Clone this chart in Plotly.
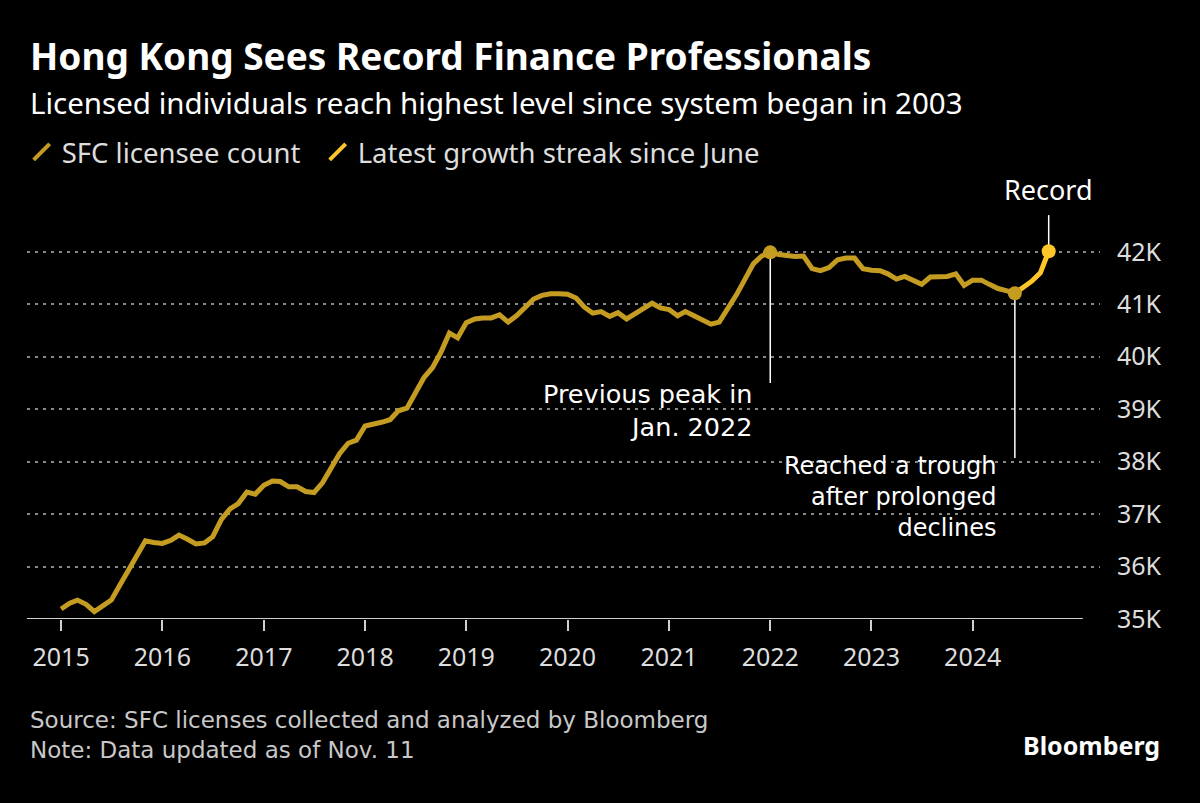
import pandas as pd
import plotly.graph_objects as go

# ---------------- data ----------------
start_month = "2015-01-01"
licensee_count = [
    # 2015
    35190, 35300, 35360, 35280, 35140, 35250, 35360, 35650, 35930, 36200, 36490, 36460,
    # 2016
    36440, 36500, 36600, 36520, 36430, 36450, 36570, 36900, 37100, 37200, 37420, 37380,
    # 2017
    37550, 37630, 37620, 37520, 37520, 37430, 37410, 37600, 37880, 38150, 38350, 38410,
    # 2018
    38680, 38710, 38750, 38800, 38970, 39020, 39300, 39600, 39790, 40080, 40450, 40360,
    # 2019
    40650, 40720, 40740, 40740, 40800, 40660, 40780, 40950, 41100, 41170, 41200, 41200,
    # 2020
    41190, 41120, 40950, 40830, 40860, 40770, 40840, 40720, 40820, 40930, 41020, 40930,
    # 2021
    40900, 40780, 40860, 40780, 40700, 40620, 40660, 40900, 41180, 41470, 41770, 41920,
    # 2022
    41990, 41950, 41930, 41910, 41920, 41680, 41640, 41700, 41850, 41880, 41880, 41680,
    # 2023
    41650, 41640, 41580, 41480, 41530, 41450, 41380, 41520, 41530, 41530, 41580, 41360,
    # 2024 (Jan - Jun)
    41460, 41460, 41380, 41300, 41260, 41210,
]
streak_start = "2024-06-01"
streak_count = [41210, 41330, 41440, 41600, 42010]  # Jun - Oct 2024

year_ticks = [f"{y}-01-01" for y in range(2015, 2025)]
year_labels = [str(y) for y in range(2015, 2025)]
y_ticks = [35000, 36000, 37000, 38000, 39000, 40000, 41000, 42000]
y_labels = ["35K", "36K", "37K", "38K", "39K", "40K", "41K", "42K"]

series_names = ["SFC licensee count", "Latest growth streak since June"]
peak_note = ["Previous peak in", "Jan. 2022"]
trough_note = ["Reached a trough", "after prolonged", "declines"]
footer_lines = ["Source: SFC licenses collected and analyzed by Bloomberg",
                "Note: Data updated as of Nov. 11"]

# ---------------- styling ----------------
FONT = "Noto Sans"
FONT_WIDE = "DejaVu Sans"
C_MAIN = "#C49C22"
C_STREAK = "#FFC629"
BG = "#000000"

dates = pd.date_range(start_month, periods=len(licensee_count), freq="MS")
streak_dates = pd.date_range(streak_start, periods=len(streak_count), freq="MS")

peak_i = max(range(len(licensee_count)), key=lambda i: licensee_count[i])
peak_x, peak_y = dates[peak_i], licensee_count[peak_i]
trough_x, trough_y = dates[-1], licensee_count[-1]
rec_x, rec_y = streak_dates[-1], streak_count[-1]

fig = go.Figure()

fig.add_trace(go.Scatter(x=dates, y=licensee_count, mode="lines",
                         line=dict(color=C_MAIN, width=5), showlegend=False,
                         name=series_names[0]))
fig.add_trace(go.Scatter(x=streak_dates, y=streak_count, mode="lines",
                         line=dict(color=C_STREAK, width=5), showlegend=False,
                         name=series_names[1]))
# dots
fig.add_trace(go.Scatter(x=[peak_x, trough_x], y=[peak_y, trough_y], mode="markers",
                         marker=dict(color=C_MAIN, size=14), showlegend=False))
fig.add_trace(go.Scatter(x=[rec_x], y=[rec_y], mode="markers",
                         marker=dict(color=C_STREAK, size=14), showlegend=False))

# legend entries with slanted icons
for k, (name, col) in enumerate(zip(series_names, [C_MAIN, C_STREAK])):
    fig.add_trace(go.Scatter(x=[None], y=[None], mode="markers", name=name,
                             legendwidth=251 if k == 0 else None,
                             marker=dict(symbol="line-ne", size=16,
                                         line=dict(color=col, width=4))))

# leader lines
line_style = dict(color="#ffffff", width=1.5)
fig.add_shape(type="line", xref="x", yref="y", x0=peak_x, x1=peak_x,
              y0=peak_y, y1=39500, line=line_style, layer="below")
fig.add_shape(type="line", xref="x", yref="y", x0=trough_x, x1=trough_x,
              y0=trough_y, y1=38070, line=line_style, layer="below")
fig.add_shape(type="line", xref="x", yref="y", x0=rec_x, x1=rec_x,
              y0=42130, y1=42700, line=line_style, layer="below")
# bottom axis line
fig.add_shape(type="line", xref="paper", yref="y", x0=0, x1=0.984,
              y0=35000, y1=35000, line=dict(color="#d0d0d0", width=2))

fig.add_annotation(x=rec_x, y=43180, xref="x", yref="y", text="Record",
                   showarrow=False, xanchor="center", yanchor="middle",
                   font=dict(family=FONT, size=27, color="#ffffff"))
fig.add_annotation(x=peak_x, y=38967, xref="x", yref="y", xshift=-15,
                   text="<br>".join(peak_note), align="right",
                   showarrow=False, xanchor="right", yanchor="middle",
                   font=dict(family=FONT_WIDE, size=25.5, color="#ffffff"))
fig.add_annotation(x=trough_x, y=37327, xref="x", yref="y", xshift=-16,
                   text="<br>".join(trough_note), align="right",
                   showarrow=False, xanchor="right", yanchor="middle",
                   font=dict(family=FONT_WIDE, size=24, color="#ffffff"))

# titles & footer
fig.add_annotation(x=0.001, y=1.2539, xref="paper", yref="paper", xanchor="left",
                   yanchor="middle", showarrow=False,
                   text="<b>Hong Kong Sees Record Finance Professionals</b>",
                   font=dict(family=FONT, size=37, color="#ffffff"))
fig.add_annotation(x=0.001, y=1.1514, xref="paper", yref="paper", xanchor="left",
                   yanchor="middle", showarrow=False,
                   text="Licensed individuals reach highest level since system began in 2003",
                   font=dict(family=FONT, size=29.5, color="#ffffff"))
fig.add_annotation(x=0.001, y=-0.2575, xref="paper", yref="paper", xanchor="left",
                   yanchor="middle", showarrow=False, align="left",
                   text="<br>".join(footer_lines),
                   font=dict(family=FONT_WIDE, size=23, color="#c8c8c8"))
fig.add_annotation(x=1.058, y=-0.281, xref="paper", yref="paper", xanchor="right",
                   yanchor="middle", showarrow=False, text="<b>Bloomberg</b>",
                   font=dict(family=FONT, size=25, color="#ffffff"))

fig.update_layout(
    width=1200, height=803,
    paper_bgcolor=BG, plot_bgcolor=BG,
    margin=dict(l=27, r=100, t=170, b=184),
    font=dict(family=FONT, color="#dddddd"),
    legend=dict(orientation="h", x=-0.005, y=1.04, xanchor="left", yanchor="middle",
                font=dict(family=FONT, size=27.5, color="#dddddd"),
                bgcolor="rgba(0,0,0,0)"),
    xaxis=dict(type="date", range=["2014-08-31", "2025-04-04"],
               tickvals=year_ticks, ticktext=year_labels,
               ticks="outside", ticklen=11, tickwidth=1.5, tickcolor="#d0d0d0",
               showgrid=False, zeroline=False, showline=False, ticklabelstandoff=5,
               tickfont=dict(family=FONT, size=25, color="#dddddd")),
    yaxis=dict(side="right", range=[35000, 43560], tickvals=y_ticks, ticktext=y_labels,
               showgrid=True, gridcolor="#8a8a8a", gridwidth=2, griddash="3px,5px",
               zeroline=False, showline=False, ticks="", ticklabelstandoff=16,
               tickfont=dict(family=FONT, size=25, color="#dddddd")),
)

fig.write_html("out.html", config={"displayModeBar": False},
               post_script="document.body.style.margin='0px';")
